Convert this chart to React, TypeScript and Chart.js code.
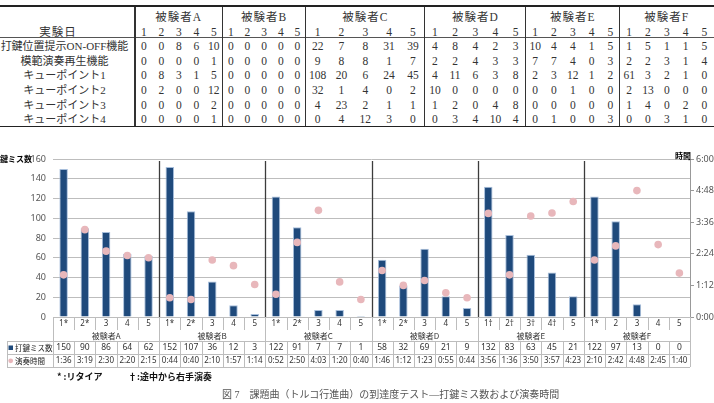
import React, { useEffect, useRef } from "react";
import { Chart, registerables } from "chart.js";

Chart.register(...registerables);

// ---------------- data ----------------
const subjects = ["被験者A", "被験者B", "被験者C", "被験者D", "被験者E", "被験者F"];
const sessionsPerSubject = 5;
const dayNumbers = ["1", "2", "3", "4", "5"];

const dayLabels = [
  "1*", "2*", "3", "4", "5",
  "1*", "2*", "3", "4", "5",
  "1*", "2*", "3", "4", "5",
  "1*", "2*", "3", "4", "5",
  "1†", "2†", "3†", "4†", "5",
  "1*", "2", "3", "4", "5",
];

const missCounts = [
  150, 90, 86, 64, 62,
  152, 107, 36, 12, 3,
  122, 91, 7, 7, 1,
  58, 32, 69, 21, 9,
  132, 83, 63, 45, 21,
  122, 97, 13, 0, 0,
];

const playTimes = [
  "1:36", "3:19", "2:30", "2:20", "2:15",
  "0:44", "0:40", "2:10", "1:57", "1:14",
  "0:52", "2:50", "4:03", "1:20", "0:40",
  "1:46", "1:12", "1:23", "0:55", "0:44",
  "3:56", "1:36", "3:50", "3:57", "4:23",
  "2:10", "2:42", "4:48", "2:45", "1:40",
];

const missTicks = { min: 0, max: 160, step: 20 };
const timeTicks = { min: 0, max: 360, step: 72 };

const featureNames = [
  "打鍵位置提示ON-OFF機能",
  "模範演奏再生機能",
  "キューポイント1",
  "キューポイント2",
  "キューポイント3",
  "キューポイント4",
];
const featureOnOff = [0, 0, 8, 6, 10, 0, 0, 0, 0, 0, 22, 7, 8, 31, 39, 4, 8, 4, 2, 3, 10, 4, 4, 1, 5, 1, 5, 1, 1, 5];
const featureDemo = [0, 0, 0, 0, 1, 0, 0, 0, 0, 0, 9, 8, 8, 1, 7, 2, 2, 4, 3, 3, 7, 7, 4, 0, 3, 2, 2, 3, 1, 4];
const featureCue1 = [0, 8, 3, 1, 5, 0, 0, 0, 0, 0, 108, 20, 6, 24, 45, 4, 11, 6, 3, 8, 2, 3, 12, 1, 2, 61, 3, 2, 1, 0];
const featureCue2 = [0, 2, 0, 0, 12, 0, 0, 0, 0, 0, 32, 1, 4, 0, 2, 10, 0, 0, 0, 0, 0, 0, 1, 0, 0, 2, 13, 0, 0, 0];
const featureCue3 = [0, 0, 0, 0, 2, 0, 0, 0, 0, 0, 4, 23, 2, 1, 1, 1, 2, 0, 4, 8, 0, 0, 0, 0, 0, 1, 4, 0, 2, 0];
const featureCue4 = [0, 0, 0, 0, 1, 0, 0, 0, 0, 0, 0, 4, 12, 3, 0, 0, 3, 4, 10, 4, 0, 1, 0, 0, 3, 0, 0, 3, 1, 0];
const featureRows = [featureOnOff, featureDemo, featureCue1, featureCue2, featureCue3, featureCue4];

const captionNo = "図 7";
const captionText = "課題曲（トルコ行進曲）の到達度テスト—打鍵ミス数および演奏時間";
const noteRetire = "* :リタイア";
const noteRight = "†:途中から右手演奏";

// ---------------- helpers ----------------
const toSeconds = (s: string) => {
  const [m, sec] = s.split(":").map(Number);
  return m * 60 + sec;
};
const fmtTime = (v: number) =>
  `${Math.floor(v / 60)}:${String(Math.round(v % 60)).padStart(2, "0")}`;

const SANS = '"Noto Sans", "Noto Sans CJK JP", sans-serif';
const CJK = '"Noto Sans CJK JP", sans-serif';
const SERIF = '"Liberation Serif", "Noto Sans CJK JP", serif';
const BAR_COLOR = "#1f4a7c";
const DOT_COLOR = "#e8b7bb";

// ---------------- top table ----------------
const LABEL_W = 135;
const GROUP_W = [87.5, 83.3, 119, 101, 94, 94];
const HEAD1_Y = 16.5;
const HEAD2_Y = 31.5;
const ROW_Y = [46, 60.8, 75.3, 90, 104.7, 119.3];

function TopTable() {
  const starts: number[] = [LABEL_W];
  GROUP_W.forEach((w, i) => starts.push(starts[i] + w));
  const els: React.ReactNode[] = [];
  const txt = (
    key: string,
    left: number,
    width: number,
    cy: number,
    text: string,
    extra: React.CSSProperties = {}
  ) =>
    els.push(
      <div
        key={key}
        style={{
          position: "absolute",
          left,
          width,
          top: cy - 8,
          height: 16,
          lineHeight: "16px",
          textAlign: "center",
          whiteSpace: "nowrap",
          fontFamily: SERIF,
          fontSize: 11.5,
          color: "#333",
          ...extra,
        }}
      >
        {text}
      </div>
    );

  txt("hd", 0, 116, HEAD2_Y, "実験日", { fontSize: 11.5, letterSpacing: 1 });
  featureNames.forEach((n, r) => txt("fn" + r, 0, 129, ROW_Y[r], n, { fontSize: 11 }));
  subjects.forEach((s, g) => {
    txt("s" + g, starts[g], GROUP_W[g], HEAD1_Y, s, { fontSize: 11.5, letterSpacing: 1 });
    const cw = GROUP_W[g] / sessionsPerSubject;
    dayNumbers.forEach((d, k) => txt(`d${g}${k}`, starts[g] + k * cw, cw, HEAD2_Y, d));
    featureRows.forEach((row, r) =>
      dayNumbers.forEach((_, k) =>
        txt(`v${g}${r}${k}`, starts[g] + k * cw, cw, ROW_Y[r], String(row[g * sessionsPerSubject + k]))
      )
    );
  });

  const rules: React.ReactNode[] = [
    <div key="top" style={{ position: "absolute", left: 0, width: 714, top: 5, height: 2, background: "#222" }} />,
    <div key="mid" style={{ position: "absolute", left: 0, width: 714, top: 36.5, height: 1, background: "#555" }} />,
    <div key="bot" style={{ position: "absolute", left: 0, width: 714, top: 125.5, height: 1.5, background: "#222" }} />,
  ];
  starts.slice(0, 6).forEach((x, i) =>
    rules.push(
      <div key={"vl" + i} style={{ position: "absolute", left: x - 0.7, width: 1.4, top: 7, height: 119, background: "#333" }} />
    )
  );

  return (
    <div style={{ position: "absolute", left: 0, top: 0, width: 714, height: 130 }}>
      {rules}
      {els}
    </div>
  );
}

// ---------------- chart ----------------
const overlay = {
  id: "overlay",
  beforeDatasetsDraw(chart: any) {
    const { ctx, chartArea: a } = chart;
    const n = dayLabels.length;
    const w = (a.right - a.left) / n;
    ctx.save();
    ctx.strokeStyle = "#3c3c3c";
    ctx.lineWidth = 1.3;
    for (let g = 1; g < subjects.length; g++) {
      const bx = Math.round(a.left + g * sessionsPerSubject * w) + 0.5;
      ctx.beginPath();
      ctx.moveTo(bx, a.top + 2);
      ctx.lineTo(bx, a.bottom);
      ctx.stroke();
    }
    ctx.restore();
  },
  afterDraw(chart: any) {
    const { ctx, chartArea: a } = chart;
    const n = dayLabels.length;
    const w = (a.right - a.left) / n;
    const labelBottom = a.bottom + 13;
    const groupBottom = labelBottom + 11;
    const row1Bottom = groupBottom + 13;
    const row2Bottom = row1Bottom + 13;
    const tableLeft = 7;
    ctx.save();
    ctx.strokeStyle = "#bdbdbd";
    ctx.lineWidth = 1;
    const vline = (x: number, y1: number, y2: number) => {
      const px = Math.round(x) + 0.5;
      ctx.beginPath();
      ctx.moveTo(px, y1);
      ctx.lineTo(px, y2);
      ctx.stroke();
    };
    const hline = (x1: number, x2: number, y: number) => {
      const py = Math.round(y) + 0.5;
      ctx.beginPath();
      ctx.moveTo(x1, py);
      ctx.lineTo(x2, py);
      ctx.stroke();
    };
    for (let i = 0; i <= n; i++) {
      const bx = a.left + i * w;
      const isGroup = i % sessionsPerSubject === 0;
      vline(bx, a.bottom, isGroup ? groupBottom : labelBottom);
      vline(bx, groupBottom, row2Bottom);
    }
    hline(tableLeft, a.right, groupBottom);
    hline(tableLeft, a.right, row1Bottom);
    hline(tableLeft, a.right, row2Bottom);
    vline(tableLeft, groupBottom, row2Bottom);

    ctx.fillStyle = "#333";
    ctx.textAlign = "center";
    ctx.textBaseline = "middle";
    ctx.font = `8px ${SANS}`;
    dayLabels.forEach((l, i) => ctx.fillText(l, a.left + (i + 0.5) * w, a.bottom + 7));
    ctx.font = `8px ${CJK}`;
    subjects.forEach((s, g) =>
      ctx.fillText(s, a.left + (g * sessionsPerSubject + sessionsPerSubject / 2) * w, labelBottom + 5.5)
    );
    ctx.font = `8.5px ${SANS}`;
    missCounts.forEach((v, i) => ctx.fillText(String(v), a.left + (i + 0.5) * w, groupBottom + 6.8));
    ctx.font = `8px ${SANS}`;
    playTimes.forEach((v, i) => ctx.fillText(v, a.left + (i + 0.5) * w, row1Bottom + 6.8));

    ctx.fillStyle = BAR_COLOR;
    ctx.fillRect(8.5, groupBottom + 4.5, 4.5, 4.5);
    ctx.fillStyle = DOT_COLOR;
    ctx.beginPath();
    ctx.arc(10.7, row1Bottom + 6.8, 2.4, 0, Math.PI * 2);
    ctx.fill();
    ctx.fillStyle = "#222";
    ctx.textAlign = "left";
    ctx.font = `7.5px ${CJK}`;
    ctx.fillText("打鍵ミス数", 15, groupBottom + 6.8);
    ctx.fillText("演奏時間", 15, row1Bottom + 6.8);

    ctx.fillStyle = "#000";
    ctx.textAlign = "right";
    ctx.font = `bold 8px ${CJK}`;
    ctx.fillText("打鍵ミス数", 32, a.top);
    ctx.fillText("時間", a.right + 1, a.top - 3);
    ctx.restore();
  },
};

function MissChart() {
  const ref = useRef<HTMLCanvasElement>(null);
  useEffect(() => {
    const chart = new Chart(ref.current as HTMLCanvasElement, {
      type: "bar",
      data: {
        labels: dayLabels,
        datasets: [
          {
            type: "line",
            label: "演奏時間",
            data: playTimes.map(toSeconds),
            yAxisID: "y1",
            showLine: false,
            pointRadius: 3.8,
            pointBackgroundColor: DOT_COLOR,
            pointBorderColor: DOT_COLOR,
            pointBorderWidth: 0,
            order: 0,
          } as any,
          {
            type: "bar",
            label: "打鍵ミス数",
            data: missCounts,
            yAxisID: "y",
            backgroundColor: BAR_COLOR,
            borderColor: "#a7bedb",
            borderWidth: 1,
            barPercentage: 0.4,
            categoryPercentage: 1,
            order: 1,
          } as any,
        ],
      },
      options: {
        responsive: false,
        animation: false,
        devicePixelRatio: 1,
        layout: { padding: { top: 19, bottom: 55, left: 0, right: 0 } },
        plugins: { legend: { display: false }, tooltip: { enabled: false } },
        scales: {
          x: { display: false, offset: true },
          y: {
            position: "left",
            min: missTicks.min,
            max: missTicks.max,
            ticks: { stepSize: missTicks.step, font: { size: 9, family: SANS }, color: "#555", padding: 7 },
            grid: { color: "#bdbdbd", drawTicks: false },
            border: { display: false },
            afterFit: (s: any) => {
              s.width = 53;
            },
          },
          y1: {
            position: "right",
            min: timeTicks.min,
            max: timeTicks.max,
            ticks: {
              stepSize: timeTicks.step,
              callback: (v: any) => fmtTime(Number(v)),
              font: { size: 9, family: SANS },
              color: "#555",
              padding: 2,
            },
            grid: { drawOnChartArea: false, tickLength: 4, color: "#999" },
            border: { display: true, color: "#999" },
            afterFit: (s: any) => {
              s.width = 24;
            },
          },
        },
      } as any,
      plugins: [overlay as any],
    });
    return () => chart.destroy();
  }, []);
  return (
    <canvas
      ref={ref}
      width={714}
      height={232}
      style={{ position: "absolute", left: 0, top: 140, width: 714, height: 232 }}
    />
  );
}

export default function App() {
  return (
    <div
      style={{
        position: "fixed",
        left: 0,
        top: 0,
        width: 714,
        height: 403,
        background: "#fff",
        overflow: "hidden",
      }}
    >
      <TopTable />
      <MissChart />
      <div
        style={{
          position: "absolute",
          left: 57,
          top: 371,
          fontFamily: CJK,
          fontWeight: 700,
          fontSize: 9,
          lineHeight: "12px",
          color: "#111",
          whiteSpace: "nowrap",
        }}
      >
        {noteRetire}
      </div>
      <div
        style={{
          position: "absolute",
          left: 128,
          top: 371,
          fontFamily: CJK,
          fontWeight: 700,
          fontSize: 9,
          lineHeight: "12px",
          color: "#111",
          whiteSpace: "nowrap",
        }}
      >
        {noteRight}
      </div>
      <div
        style={{
          position: "absolute",
          left: 222,
          top: 388,
          fontFamily: SERIF,
          fontSize: 10,
          lineHeight: "14px",
          color: "#555",
          whiteSpace: "nowrap",
        }}
      >
        <span>{captionNo}</span>
        <span style={{ marginLeft: 10 }}>{captionText}</span>
      </div>
    </div>
  );
}
